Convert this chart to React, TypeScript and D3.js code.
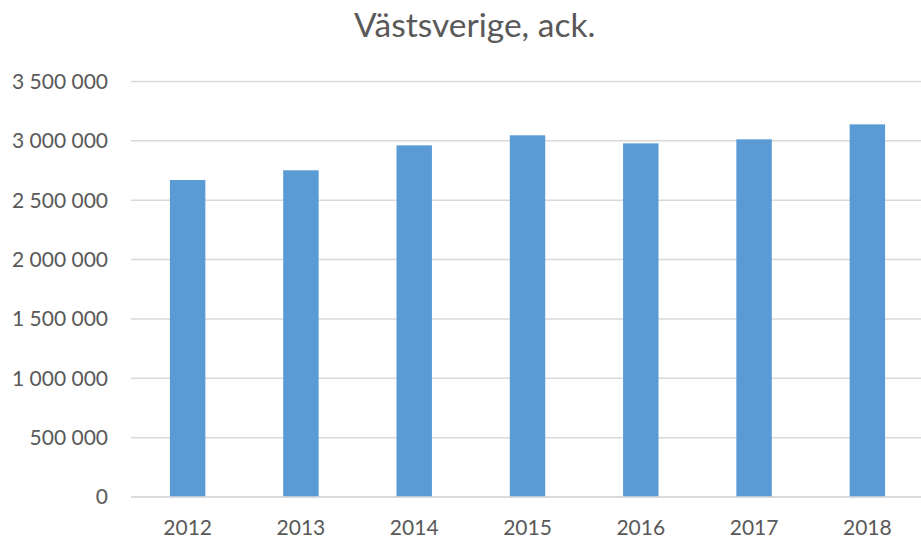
import React from "react";
import * as d3 from "d3";

const categories = ["2012", "2013", "2014", "2015", "2016", "2017", "2018"];
const values = [2670000, 2752000, 2962000, 3047000, 2979000, 3013000, 3139000];
const yTicks = [0, 500000, 1000000, 1500000, 2000000, 2500000, 3000000, 3500000];
const title = "Västsverige, ack.";

const W = 921;
const H = 539;
const plotLeft = 131;
const plotRight = 924;
const plotTop = 81.5;
const plotBottom = 497;

const fmt = (v: number) => d3.format(",")(v).replace(/,/g, " ");

export default function App() {
  const x = d3.scaleBand<string>().domain(categories).range([plotLeft, plotRight]).paddingInner(0.687).paddingOuter(0.3435);
  const y = d3.scaleLinear().domain([0, 3500000]).range([plotBottom, plotTop]);
  const font = "Lato, 'Open Sans', sans-serif";
  return (
    <svg width={W} height={H} style={{ position: "absolute", left: 0, top: 0, background: "#fff" }}>
      <text x={474.7} y={37} textAnchor="middle" fontFamily={font} fontSize={33.5} fill="#595959">
        {title}
      </text>
      {yTicks.map((t) => (
        <g key={t}>
          <line x1={plotLeft} x2={plotRight} y1={y(t)} y2={y(t)} stroke="#D9D9D9" strokeWidth={1.5} />
          <text x={108} y={y(t)} dy="0.35em" textAnchor="end" fontFamily={font} fontSize={21} fill="#595959">
            {fmt(t)}
          </text>
        </g>
      ))}
      {categories.map((c, i) => (
        <rect key={c} x={x(c)} y={y(values[i])} width={x.bandwidth()} height={plotBottom - y(values[i])} fill="#5B9BD5" />
      ))}
      <line x1={plotLeft} x2={plotRight} y1={plotBottom} y2={plotBottom} stroke="#D9D9D9" strokeWidth={1.5} />
      {categories.map((c) => (
        <text key={c} x={(x(c) as number) + x.bandwidth() / 2} y={535} textAnchor="middle" fontFamily={font} fontSize={21} fill="#595959">
          {c}
        </text>
      ))}
    </svg>
  );
}
